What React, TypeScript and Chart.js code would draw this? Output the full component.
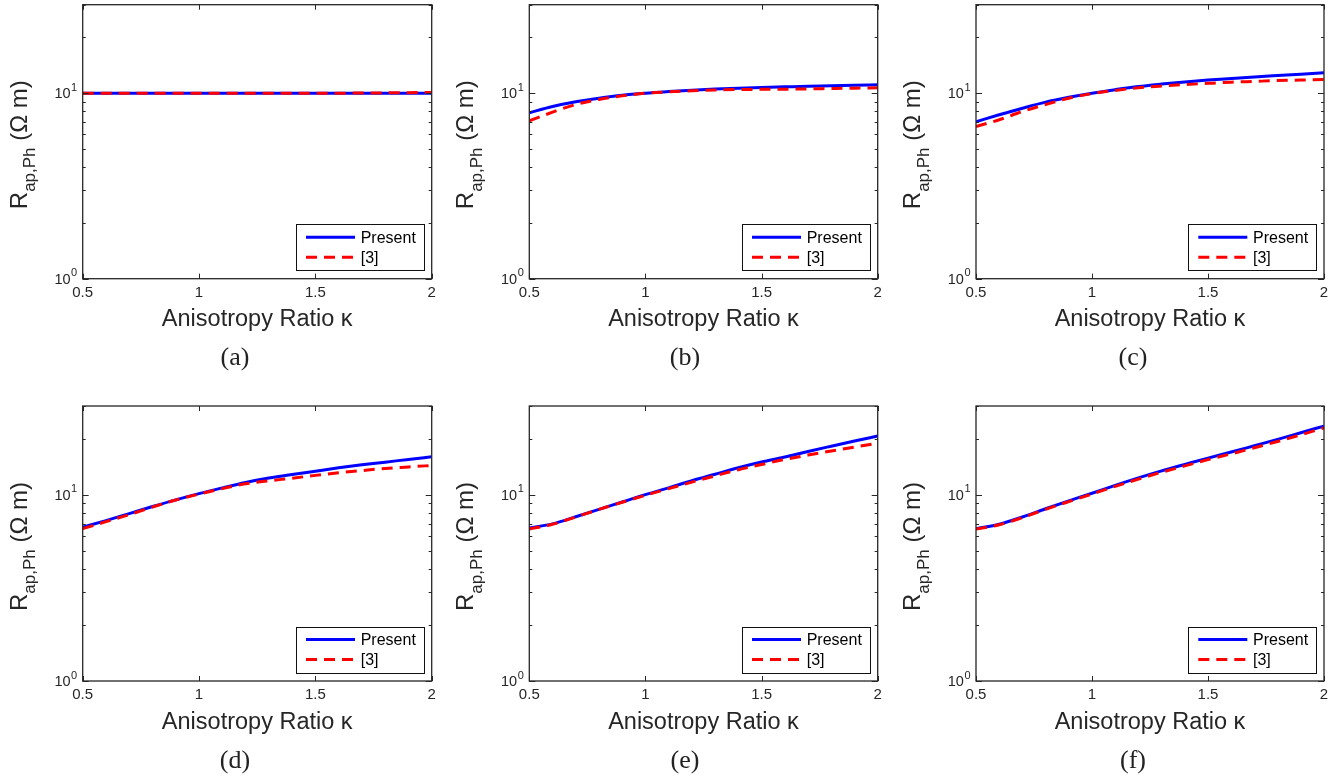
import React, { useEffect, useRef } from 'react';
import { Chart, registerables } from 'chart.js';

Chart.register(...registerables);

// ---------- data ----------
const kappa = [0.5, 0.6, 0.7, 0.8, 0.9, 1.0, 1.1, 1.2, 1.3, 1.4, 1.5, 1.6, 1.7, 1.8, 1.9, 2.0];

const presentA = [10, 10, 10, 10, 10, 10, 10, 10, 10, 10, 10, 10, 10, 10, 10, 10];
const refA = [10, 10, 10, 10, 10, 10, 10, 10, 10, 10, 10, 10, 10.02, 10.04, 10.07, 10.1];

const presentB = [7.85, 8.48, 8.99, 9.4, 9.75, 10.0, 10.2, 10.38, 10.52, 10.64, 10.74, 10.82, 10.9, 10.96, 11.03, 11.09];
const refB = [7.1, 7.9, 8.69, 9.25, 9.68, 10.0, 10.17, 10.3, 10.4, 10.47, 10.49, 10.51, 10.55, 10.6, 10.65, 10.69];

const presentC = [7.02, 7.65, 8.3, 8.95, 9.5, 10.0, 10.45, 10.87, 11.2, 11.5, 11.77, 12.0, 12.23, 12.45, 12.67, 12.88];
const refC = [6.62, 7.19, 7.97, 8.69, 9.4, 9.95, 10.35, 10.69, 10.93, 11.13, 11.3, 11.46, 11.58, 11.7, 11.78, 11.85];

const presentD = [6.7, 7.27, 7.93, 8.65, 9.4, 10.15, 10.9, 11.65, 12.3, 12.86, 13.4, 13.97, 14.5, 14.98, 15.5, 16.0];
const refD = [6.58, 7.18, 7.83, 8.6, 9.38, 10.1, 10.8, 11.46, 11.9, 12.28, 12.72, 13.13, 13.5, 13.86, 14.12, 14.38];

const presentE = [6.64, 6.98, 7.62, 8.36, 9.15, 10.03, 10.9, 11.9, 12.9, 13.98, 15.0, 15.95, 17.1, 18.25, 19.45, 20.7];
const refE = [6.55, 6.95, 7.6, 8.35, 9.12, 9.95, 10.8, 11.7, 12.65, 13.65, 14.55, 15.5, 16.35, 17.2, 18.05, 18.9];

const presentF = [6.58, 6.95, 7.6, 8.42, 9.28, 10.2, 11.25, 12.34, 13.45, 14.56, 15.75, 16.97, 18.35, 19.85, 21.55, 23.4];
const refF = [6.55, 6.9, 7.55, 8.36, 9.2, 10.1, 11.1, 12.15, 13.22, 14.3, 15.45, 16.6, 17.9, 19.35, 21.0, 22.9];

const xTickValues = [0.5, 1, 1.5, 2];
const xTickLabels = ['0.5', '1', '1.5', '2'];
const yMajorTicks = [1, 10];
const yMajorBase = ['10', '10'];
const yMajorExp = ['0', '1'];
const yMinorTicks = [2, 3, 4, 5, 6, 7, 8, 9, 20, 30];
const legendLabels = ['Present', '[3]'];
const captions = ['(a)', '(b)', '(c)', '(d)', '(e)', '(f)'];
const presentSeries = [presentA, presentB, presentC, presentD, presentE, presentF];
const refSeries = [refA, refB, refC, refD, refE, refF];
const xTitle = 'Anisotropy Ratio κ';

// ---------- layout & style ----------
const SANS = "'Liberation Sans', Arial, Helvetica, sans-serif";
const AXIS = '#262626';
const BLUE = '#0000ff';
const RED = '#ff0000';

// chart area boxes (left, right, top, bottom) and caption centers
const panels = [
  { L: 82.7, R: 431.7, T: 4.7, B: 278.7, capX: 235, capY: 357 },
  { L: 529.3, R: 877.7, T: 4.7, B: 278.7, capX: 685, capY: 357 },
  { L: 976, R: 1324, T: 4.7, B: 278.7, capX: 1133, capY: 357 },
  { L: 82.7, R: 431.7, T: 406, B: 681, capX: 235, capY: 760 },
  { L: 529.3, R: 877.7, T: 406, B: 681, capX: 685, capY: 760 },
  { L: 976, R: 1324, T: 406, B: 681, capX: 1133, capY: 760 },
];

const Y_AXIS_W = 30;
const X_AXIS_H = 60;
const LEFT_EXTRA = 84;
const RIGHT_EXTRA = 12;
const TOP_EXTRA = 4;
const BOTTOM_EXTRA = 66;

const matlabPlugin = {
  id: 'matlabLook',
  afterDatasetsDraw(chart: any) {
    const { ctx, chartArea: ca, scales } = chart;
    const xs = scales.x;
    const ys = scales.y;
    ctx.save();
    // axes box
    ctx.strokeStyle = AXIS;
    ctx.lineWidth = 1.3;
    ctx.strokeRect(ca.left, ca.top, ca.right - ca.left, ca.bottom - ca.top);
    // x ticks (inward, top and bottom)
    ctx.lineWidth = 1;
    ctx.beginPath();
    xTickValues.forEach((v) => {
      const px = Math.round(xs.getPixelForValue(v)) + 0.5;
      ctx.moveTo(px, ca.bottom);
      ctx.lineTo(px, ca.bottom - 5);
      ctx.moveTo(px, ca.top);
      ctx.lineTo(px, ca.top + 5);
    });
    // y major ticks
    yMajorTicks.forEach((v) => {
      const py = Math.round(ys.getPixelForValue(v)) + 0.5;
      ctx.moveTo(ca.left, py);
      ctx.lineTo(ca.left + 6, py);
      ctx.moveTo(ca.right, py);
      ctx.lineTo(ca.right - 6, py);
    });
    // y minor ticks
    yMinorTicks.forEach((v) => {
      const py = Math.round(ys.getPixelForValue(v)) + 0.5;
      ctx.moveTo(ca.left, py);
      ctx.lineTo(ca.left + 3, py);
      ctx.moveTo(ca.right, py);
      ctx.lineTo(ca.right - 3, py);
    });
    ctx.stroke();

    // legend box
    const bw = 127.6;
    const bh = 45.7;
    const bx = ca.right - 8.4 - bw;
    const by = ca.bottom - 8.7 - bh;
    ctx.fillStyle = '#ffffff';
    ctx.fillRect(bx, by, bw, bh);
    ctx.strokeStyle = '#111111';
    ctx.lineWidth = 1;
    ctx.strokeRect(Math.round(bx) + 0.5, Math.round(by) + 0.5, Math.round(bw), Math.round(bh));
    const dsets = chart.data.datasets;
    const order = [0, 1];
    order.forEach((i, row) => {
      const ds = dsets[i];
      const ry = by + 13 + row * 20;
      ctx.beginPath();
      ctx.strokeStyle = ds.borderColor;
      ctx.lineWidth = ds.borderWidth;
      ctx.setLineDash(ds.borderDash || []);
      ctx.moveTo(bx + 10.3, ry);
      ctx.lineTo(bx + 59.3, ry);
      ctx.stroke();
      ctx.setLineDash([]);
      ctx.fillStyle = '#000000';
      ctx.font = `16px ${SANS}`;
      ctx.textBaseline = 'middle';
      ctx.textAlign = 'left';
      ctx.fillText(ds.label, bx + 65, ry + 1);
    });
    ctx.restore();
  },
  afterDraw(chart: any) {
    const { ctx, chartArea: ca, scales } = chart;
    const ys = scales.y;
    ctx.save();
    ctx.fillStyle = AXIS;
    // y tick labels 10^n
    yMajorTicks.forEach((v, i) => {
      const py = ys.getPixelForValue(v);
      ctx.font = `11px ${SANS}`;
      ctx.textAlign = 'right';
      ctx.textBaseline = 'alphabetic';
      const supRight = ca.left - 5.5;
      const supW = ctx.measureText(yMajorExp[i]).width;
      ctx.fillText(yMajorExp[i], supRight, py - 2.5);
      ctx.font = `14.5px ${SANS}`;
      ctx.textBaseline = 'middle';
      ctx.fillText(yMajorBase[i], supRight - supW - 0.5, py + 1);
    });
    // y axis title with subscript
    const main1 = 'R';
    const sub = 'ap,Ph';
    const main2 = ' (Ω m)';
    ctx.font = `24px ${SANS}`;
    const w1 = ctx.measureText(main1).width;
    const w3 = ctx.measureText(main2).width;
    ctx.font = `17px ${SANS}`;
    const w2 = ctx.measureText(sub).width;
    const total = w1 + w2 + w3;
    const cx = ca.left - 56;
    const cy = (ca.top + ca.bottom) / 2 + 3;
    ctx.translate(cx, cy);
    ctx.rotate(-Math.PI / 2);
    ctx.textAlign = 'left';
    ctx.textBaseline = 'alphabetic';
    ctx.fillStyle = AXIS;
    const sx = -total / 2;
    ctx.font = `24px ${SANS}`;
    ctx.fillText(main1, sx, 0);
    ctx.font = `17px ${SANS}`;
    ctx.fillText(sub, sx + w1, 8.5);
    ctx.font = `24px ${SANS}`;
    ctx.fillText(main2, sx + w1 + w2, 0);
    ctx.restore();
  },
};

function Panel({ idx }: { idx: number }) {
  const ref = useRef<HTMLCanvasElement | null>(null);
  const p = panels[idx];
  const canvasLeft = Math.floor(p.L) - LEFT_EXTRA;
  const canvasTop = Math.max(0, Math.floor(p.T) - TOP_EXTRA);
  const canvasW = Math.ceil(p.R) + RIGHT_EXTRA - canvasLeft;
  const canvasH = Math.ceil(p.B) + BOTTOM_EXTRA - canvasTop;

  useEffect(() => {
    const canvas = ref.current;
    if (!canvas) return;
    const padLeft = p.L - canvasLeft - Y_AXIS_W;
    const padRight = canvasLeft + canvasW - p.R;
    const padTop = p.T - canvasTop;
    const padBottom = canvasTop + canvasH - p.B - X_AXIS_H;
    const chart = new Chart(canvas, {
      type: 'line',
      data: {
        datasets: [
          {
            label: legendLabels[0],
            data: kappa.map((k, i) => ({ x: k, y: presentSeries[idx][i] })),
            borderColor: BLUE,
            backgroundColor: BLUE,
            borderWidth: 3,
            pointRadius: 0,
            cubicInterpolationMode: 'monotone',
            fill: false,
            order: 1,
          },
          {
            label: legendLabels[1],
            data: kappa.map((k, i) => ({ x: k, y: refSeries[idx][i] })),
            borderColor: RED,
            backgroundColor: RED,
            borderWidth: 3,
            borderDash: [11, 7],
            pointRadius: 0,
            cubicInterpolationMode: 'monotone',
            fill: false,
            order: 0,
          },
        ],
      },
      options: {
        animation: false,
        responsive: false,
        devicePixelRatio: 1,
        events: [],
        layout: { padding: { left: padLeft, right: padRight, top: padTop, bottom: padBottom } },
        plugins: { legend: { display: false }, tooltip: { enabled: false }, title: { display: false } },
        scales: {
          x: {
            type: 'linear',
            min: 0.5,
            max: 2,
            grid: { display: false, drawTicks: false },
            border: { display: false },
            ticks: {
              stepSize: 0.5,
              autoSkip: false,
              maxRotation: 0,
              padding: 5,
              color: AXIS,
              font: { family: SANS, size: 15 },
              callback: (v: any) => {
                const i = xTickValues.indexOf(Number(v));
                return i >= 0 ? xTickLabels[i] : '';
              },
            },
            title: {
              display: true,
              text: xTitle,
              color: AXIS,
              font: { family: SANS, size: 23.5 },
              padding: { top: 0, bottom: 4.6 },
            },
            afterFit: (s: any) => {
              s.height = X_AXIS_H;
            },
          },
          y: {
            type: 'logarithmic',
            min: 1,
            max: 30,
            grid: { display: false, drawTicks: false },
            border: { display: false },
            ticks: { display: false },
            afterFit: (s: any) => {
              s.width = Y_AXIS_W;
            },
          },
        },
      } as any,
      plugins: [matlabPlugin],
    });
    return () => chart.destroy();
  }, [idx]);

  return (
    <>
      <canvas
        ref={ref}
        width={canvasW}
        height={canvasH}
        style={{ position: 'absolute', left: canvasLeft, top: canvasTop, width: canvasW, height: canvasH }}
      />
      <div
        style={{
          position: 'absolute',
          left: p.capX - 40,
          top: p.capY - 16,
          width: 80,
          height: 32,
          lineHeight: '32px',
          textAlign: 'center',
          fontFamily: "'Liberation Serif', 'DejaVu Serif', serif",
          fontSize: 26,
          color: '#222',
        }}
      >
        {captions[idx]}
      </div>
    </>
  );
}

export default function App() {
  return (
    <div
      style={{
        position: 'fixed',
        left: 0,
        top: 0,
        width: 1342,
        height: 782,
        background: '#ffffff',
        overflow: 'hidden',
      }}
    >
      {panels.map((_, i) => (
        <Panel key={i} idx={i} />
      ))}
    </div>
  );
}
